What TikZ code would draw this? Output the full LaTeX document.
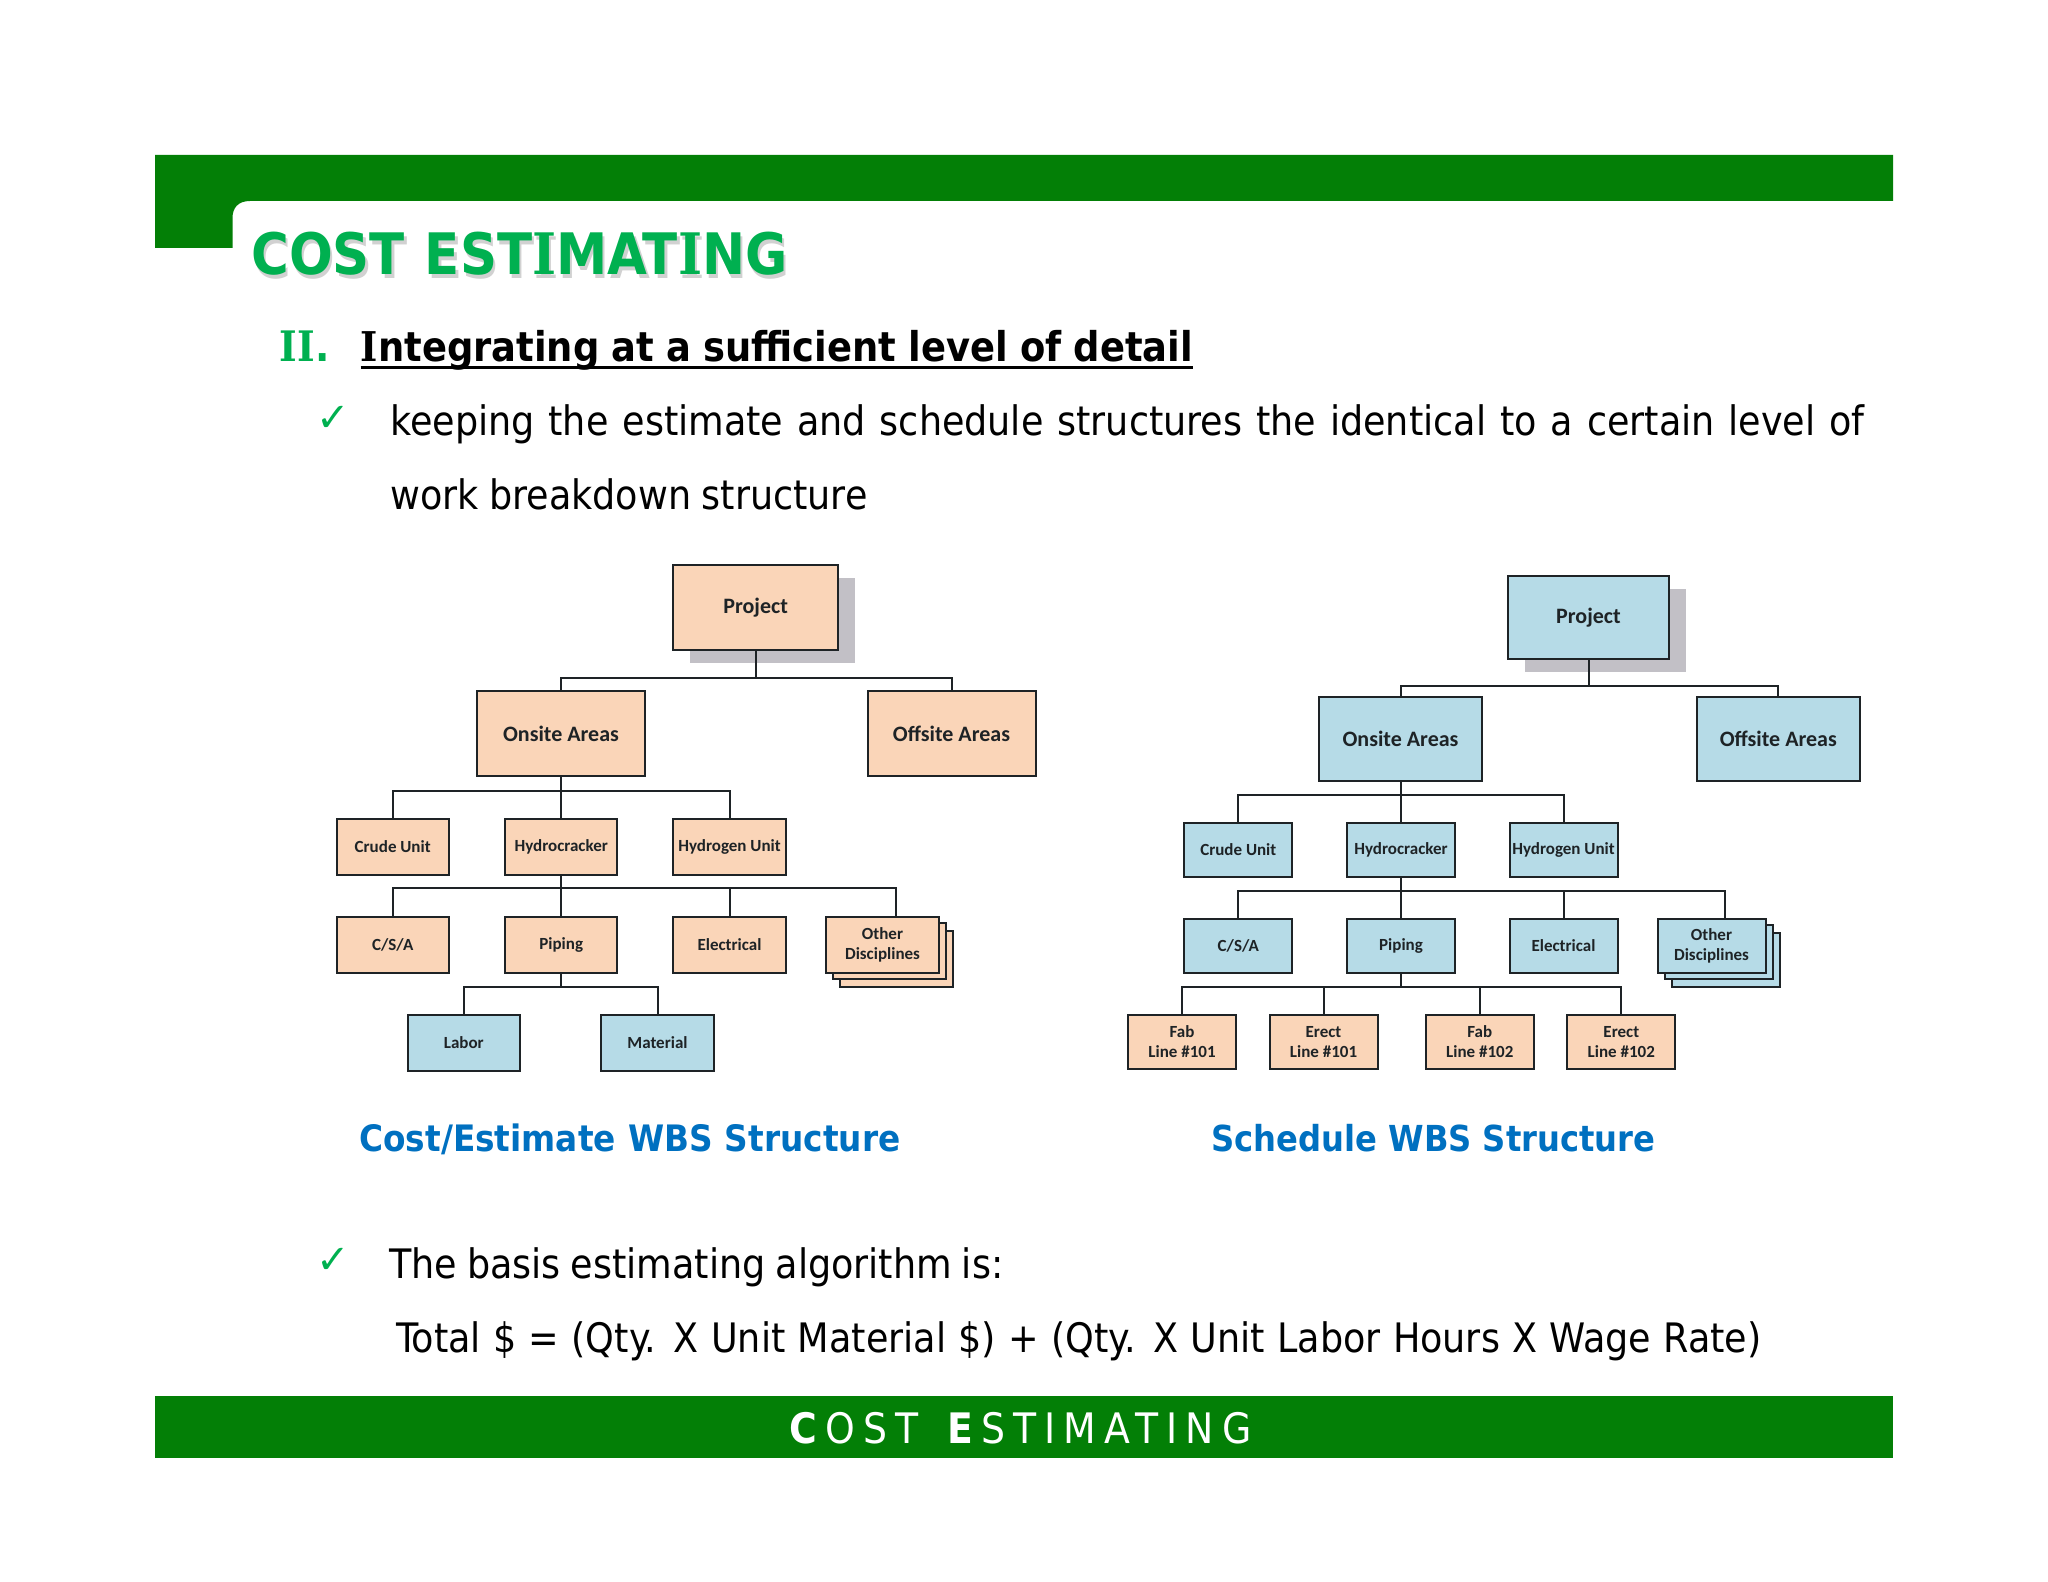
\documentclass[tikz,border=0pt]{standalone}
\usepackage{fontspec}
\setmainfont{DejaVu Sans Condensed}
\newfontfamily\boxfont{Carlito}
\newfontfamily\checkfont{DejaVu Sans}
\newfontfamily\slabfont{DejaVu Serif Condensed}
\newcommand{\slabI}{{\slabfont\bfseries I}}
\definecolor{barG}{HTML}{037F06}
\definecolor{titleG}{HTML}{00B050}
\definecolor{capB}{HTML}{0070C0}
\definecolor{peach}{HTML}{FAD5B8}
\definecolor{sky}{HTML}{B6DBE7}
\definecolor{ink}{HTML}{1E2326}
\definecolor{shadowgrey}{HTML}{C2C0C6}
\tikzset{
  conn/.style={draw=ink,line width=1pt},
  wbsbox/.style={draw=ink,line width=1pt,inner sep=0pt,align=center,text=ink,font=\boxfont\bfseries\fontsize{8.5}{10}\selectfont},
  bigbox/.style={wbsbox,font=\boxfont\bfseries\fontsize{11}{13}\selectfont},
  lsmall/.style={wbsbox,minimum width=56.2pt,minimum height=28pt},
  rsmall/.style={wbsbox,minimum width=54pt,minimum height=27.2pt},
  lonbox/.style={bigbox,minimum width=84pt,minimum height=42.5pt,fill=peach},
  ronbox/.style={bigbox,minimum width=81.5pt,minimum height=42pt,fill=sky},
  shadowbox/.style={fill=shadowgrey,draw=none},
  bodytext/.style={inner sep=0pt,anchor=base west,font=\fontsize{20.3}{25}\selectfont},
  captiontext/.style={inner sep=0pt,anchor=base west,text=capB,font=\bfseries\fontsize{18.2}{22}\selectfont},
  tick/.style={inner sep=0pt,text=titleG,font=\checkfont\fontsize{20}{24}\selectfont},
}
\newcommand{\wbsedge}[3]{\draw[conn] (#1) -- (#1 |- #3) -| (#2);}
\begin{document}
\begin{tikzpicture}[x=0.5pt,y=-0.5pt]
\useasboundingbox (0,0) rectangle (2048,1582);
% header and footer
\fill[barG] (155,155) -- (1893,155) -- (1893,201) -- (250,201)
  .. controls (238,201) and (232.5,208) .. (232.5,218) -- (232.5,248) -- (155,248) -- cycle;
\fill[barG] (155,1396) rectangle (1893,1458);
% title
\node[inner sep=0pt,anchor=base west,text=black!30,opacity=.6,font=\bfseries\fontsize{28.6}{32}\selectfont] (titleshadow) at (253.5,278.5) {\makebox[268pt][s]{COST EST\slabI MAT\slabI NG}};
\node[inner sep=0pt,anchor=base west,text=titleG,font=\bfseries\fontsize{28.6}{32}\selectfont] (title) at (251,275) {\makebox[268pt][s]{COST EST\slabI MAT\slabI NG}};
\node[inner sep=0pt,anchor=base west,text=titleG,font=\bfseries\fontsize{21}{24}\selectfont] (roman) at (279.5,362) {\slabI\slabI.};
\node[inner sep=0pt,anchor=base west,font=\bfseries\fontsize{20.5}{24}\selectfont] (subhead) at (360.5,362) {\makebox[416pt][s]{\slabI ntegrating at a sufficient level of detail}};
\draw[line width=1.5pt] ([yshift=-2.6pt]subhead.base west) -- ([yshift=-2.6pt]subhead.base east);
\node[tick] (tick1) at (333,419) {✓};
\node[bodytext] (line1) at (390,435.5) {\makebox[737pt][s]{keeping the estimate and schedule structures the identical to a certain level of}};
\node[bodytext] (line2) at (390,510) {\makebox[238.5pt][s]{work breakdown structure}};
\node[tick] (tick2) at (333,1261) {✓};
\node[bodytext] (line3) at (389,1278) {\makebox[307pt][s]{The basis estimating algorithm is:}};
\node[bodytext] (line4) at (396,1352) {\makebox[682.5pt][s]{Total \$ = (Qty. X Unit Material \$) + (Qty. X Unit Labor Hours X Wage Rate)}};
\node[inner sep=0pt,anchor=base west,text=white,font=\fontsize{21}{25}\selectfont] (footer) at (789,1443) {\addfontfeature{LetterSpace=19.5}\textbf{C}OST \textbf{E}STIMATING};
\node[captiontext] (capL) at (359,1151) {\makebox[270.5pt][s]{Cost/Estimate WBS Structure}};
\node[captiontext,font=\bfseries\fontsize{17.9}{22}\selectfont] (capR) at (1211,1151) {\makebox[222pt][s]{Schedule WBS Structure}};
% buses
\coordinate (l1) at (0,678); \coordinate (l2) at (0,791); \coordinate (l3) at (0,888.3); \coordinate (l4) at (0,987);
\coordinate (r1) at (0,686); \coordinate (r2) at (0,795.3); \coordinate (r3) at (0,891); \coordinate (r4) at (0,987);
% left tree
\node[shadowbox,minimum width=82.7pt,minimum height=42.2pt,inner sep=0pt] (lprojs) at (772.7,620.5) {};
\node[bigbox,minimum width=82.7pt,minimum height=42.2pt,fill=peach] (lproj) at (755.7,607.7) {Project};
\node[lonbox] (lon) at (561,733.5) {Onsite Areas};
\node[lonbox] (loff) at (951.5,733.5) {Offsite Areas};
\node[lsmall,fill=peach] (lcrude) at (392.7,846.8) {Crude Unit};
\node[lsmall,fill=peach] (lhyd) at (561.2,846.8) {Hydrocracker};
\node[lsmall,fill=peach] (lhyu) at (729.5,846.8) {Hydrogen Unit};
\node[lsmall,fill=peach] (lcsa) at (392.7,944.8) {C/S/A};
\node[lsmall,fill=peach] (lpip) at (561.2,944.8) {Piping};
\node[lsmall,fill=peach] (lele) at (729.5,944.8) {Electrical};
\node[lsmall,fill=peach] (lothc) at (896.5,958.8) {};
\node[lsmall,fill=peach] (lothb) at (889.5,950.8) {};
\node[lsmall,fill=peach] (loth) at (882.5,944.8) {Other\\Disciplines};
\coordinate (lothin) at (896,917);
\node[lsmall,fill=sky] (llab) at (463.8,1043) {Labor};
\node[lsmall,fill=sky] (lmat) at (657.5,1043) {Material};
\wbsedge{lproj.south}{lon.north}{l1}
\wbsedge{lproj.south}{loff.north}{l1}
\wbsedge{lon.south}{lcrude.north}{l2}
\wbsedge{lon.south}{lhyd.north}{l2}
\wbsedge{lon.south}{lhyu.north}{l2}
\wbsedge{lhyd.south}{lcsa.north}{l3}
\wbsedge{lhyd.south}{lpip.north}{l3}
\wbsedge{lhyd.south}{lele.north}{l3}
\wbsedge{lhyd.south}{lothin}{l3}
\wbsedge{lpip.south}{llab.north}{l4}
\wbsedge{lpip.south}{lmat.north}{l4}
% right tree
\node[shadowbox,minimum width=80.5pt,minimum height=41.7pt,inner sep=0pt] (rprojs) at (1605.5,630.5) {};
\node[bigbox,minimum width=80.5pt,minimum height=41.7pt,fill=sky] (rproj) at (1588.5,617.7) {Project};
\node[ronbox] (ron) at (1400.5,739) {Onsite Areas};
\node[ronbox] (roff) at (1778.3,739) {Offsite Areas};
\node[rsmall,fill=sky] (rcrude) at (1238.3,850) {Crude Unit};
\node[rsmall,fill=sky] (rhyd) at (1401,850) {Hydrocracker};
\node[rsmall,fill=sky] (rhyu) at (1563.5,850) {Hydrogen Unit};
\node[rsmall,fill=sky] (rcsa) at (1238.3,946) {C/S/A};
\node[rsmall,fill=sky] (rpip) at (1401,946) {Piping};
\node[rsmall,fill=sky] (rele) at (1563.5,946) {Electrical};
\node[rsmall,fill=sky] (rothc) at (1725.5,960) {};
\node[rsmall,fill=sky] (rothb) at (1718.5,952) {};
\node[rsmall,fill=sky] (roth) at (1711.5,946) {Other\\Disciplines};
\coordinate (rothin) at (1724.7,918.7);
\node[rsmall,fill=peach] (rf1) at (1182,1042) {Fab\\Line \#101};
\node[rsmall,fill=peach] (re1) at (1323.5,1042) {Erect\\Line \#101};
\node[rsmall,fill=peach] (rf2) at (1479.8,1042) {Fab\\Line \#102};
\node[rsmall,fill=peach] (re2) at (1621.3,1042) {Erect\\Line \#102};
\wbsedge{rproj.south}{ron.north}{r1}
\wbsedge{rproj.south}{roff.north}{r1}
\wbsedge{ron.south}{rcrude.north}{r2}
\wbsedge{ron.south}{rhyd.north}{r2}
\wbsedge{ron.south}{rhyu.north}{r2}
\wbsedge{rhyd.south}{rcsa.north}{r3}
\wbsedge{rhyd.south}{rpip.north}{r3}
\wbsedge{rhyd.south}{rele.north}{r3}
\wbsedge{rhyd.south}{rothin}{r3}
\wbsedge{rpip.south}{rf1.north}{r4}
\wbsedge{rpip.south}{re1.north}{r4}
\wbsedge{rpip.south}{rf2.north}{r4}
\wbsedge{rpip.south}{re2.north}{r4}
\end{tikzpicture}
\end{document}
